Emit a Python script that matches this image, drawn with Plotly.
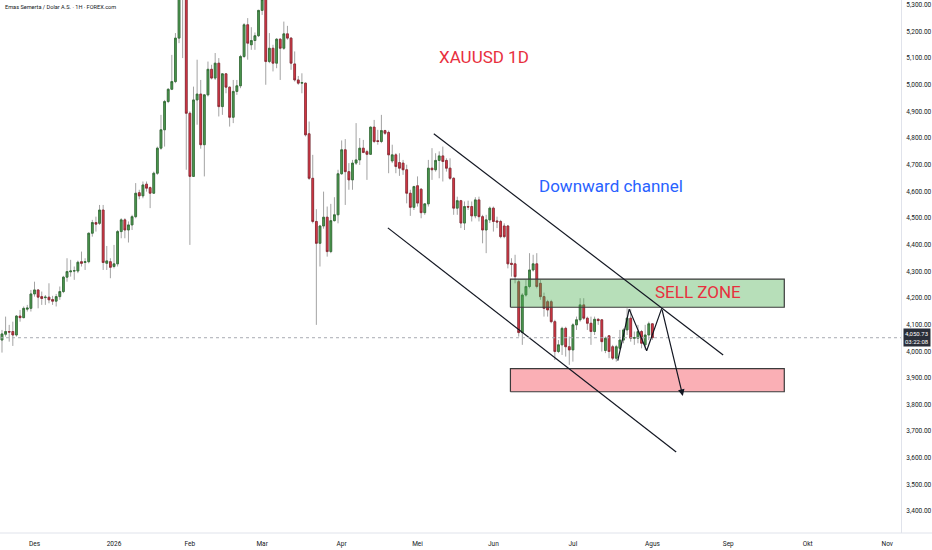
import pandas as pd
import plotly.graph_objects as go

# Daily candles, XAUUSD (Nov 18 2025 .. Aug 3 2026)
opens = [
    4042, 4064, 4074, 4074, 4061, 4132, 4126, 4158, 4161, 4215,
    4230, 4205, 4201, 4203, 4194, 4188, 4205, 4224, 4278, 4298,
    4301, 4301, 4336, 4333, 4336, 4443, 4483, 4480, 4530, 4330,
    4336, 4318, 4328, 4449, 4493, 4455, 4474, 4505, 4595, 4583,
    4627, 4614, 4593, 4668, 4762, 4831, 4937, 4983, 5012, 5175,
    5390, 5360, 4893, 4656, 4943, 4965, 4775, 4962, 5058, 5025,
    5081, 4918, 5041, 4991, 4878, 4975, 4996, 5106, 5225, 5150,
    5166, 5184, 5279, 5320, 5087, 5137, 5081, 5171, 5137, 5191,
    5175, 5078, 5018, 5006, 5006, 4816, 4649, 4487, 4405, 4470,
    4503, 4374, 4490, 4512, 4666, 4756, 4674, 4643, 4706, 4718,
    4762, 4749, 4739, 4841, 4790, 4787, 4828, 4821, 4714, 4737,
    4708, 4706, 4681, 4593, 4540, 4621, 4608, 4520, 4553, 4687,
    4681, 4716, 4733, 4716, 4687, 4649, 4537, 4565, 4481, 4543,
    4543, 4508, 4568, 4505, 4455, 4493, 4537, 4489, 4487, 4470,
    4470, 4330, 4328, 4261, 4070, 4211, 4243, 4305, 4328, 4255,
    4205, 4186, 4186, 4111, 3999, 4024, 4086, 4017, 4005, 4099,
    4118, 4174, 4124, 4105, 4074, 4120, 4118, 4003, 4058, 4017,
    3974, 4011, 4042, 4080, 4124, 4049, 4049, 4074, 4024, 4061,
    4103,
]
highs = [
    4080, 4130, 4099, 4111, 4136, 4155, 4168, 4174, 4230, 4261,
    4232, 4224, 4211, 4255, 4208, 4215, 4243, 4283, 4349, 4343,
    4318, 4340, 4374, 4349, 4445, 4493, 4505, 4549, 4549, 4395,
    4349, 4399, 4455, 4499, 4499, 4487, 4512, 4631, 4606, 4637,
    4637, 4618, 4674, 4768, 4887, 4943, 4987, 5112, 5194, 5420,
    5600, 5400, 4900, 4993, 5094, 5018, 4965, 5087, 5075, 5119,
    5100, 5044, 5043, 4993, 5018, 5018, 5112, 5231, 5250, 5216,
    5196, 5281, 5345, 5330, 5194, 5150, 5175, 5175, 5237, 5221,
    5179, 5125, 5033, 5043, 5008, 4862, 4737, 4533, 4474, 4599,
    4543, 4553, 4578, 4681, 4791, 4796, 4706, 4718, 4856, 4800,
    4793, 4756, 4843, 4868, 4831, 4887, 4831, 4828, 4775, 4743,
    4743, 4718, 4700, 4606, 4621, 4656, 4612, 4555, 4718, 4762,
    4743, 4750, 4768, 4724, 4724, 4653, 4580, 4568, 4562, 4565,
    4562, 4578, 4580, 4512, 4512, 4543, 4543, 4505, 4493, 4480,
    4474, 4349, 4362, 4268, 4218, 4268, 4368, 4362, 4368, 4268,
    4220, 4193, 4193, 4118, 4042, 4092, 4092, 4055, 4105, 4130,
    4199, 4199, 4130, 4130, 4130, 4124, 4120, 4055, 4061, 4024,
    4024, 4080, 4086, 4161, 4158, 4074, 4099, 4080, 4099, 4111,
    4105,
]
lows = [
    3995, 4055, 4036, 4020, 4055, 4111, 4124, 4149, 4149, 4205,
    4161, 4174, 4174, 4180, 4174, 4168, 4193, 4218, 4261, 4280,
    4268, 4293, 4318, 4305, 4330, 4430, 4449, 4474, 4305, 4305,
    4274, 4311, 4318, 4424, 4424, 4408, 4455, 4499, 4570, 4574,
    4599, 4537, 4591, 4662, 4756, 4768, 4931, 4980, 5006, 5156,
    5100, 4681, 4399, 4656, 4850, 4760, 4656, 4956, 5020, 5018,
    4881, 4887, 4968, 4843, 4856, 4962, 4987, 5100, 5094, 5131,
    5131, 5179, 5262, 5000, 5081, 5050, 5062, 5018, 5131, 5169,
    5056, 5012, 5000, 4968, 4806, 4643, 4480, 4099, 4318, 4460,
    4355, 4368, 4487, 4480, 4662, 4549, 4606, 4606, 4699, 4699,
    4743, 4643, 4737, 4781, 4775, 4781, 4812, 4668, 4706, 4668,
    4658, 4662, 4555, 4508, 4530, 4543, 4499, 4512, 4543, 4643,
    4674, 4649, 4637, 4674, 4643, 4512, 4512, 4462, 4455, 4530,
    4487, 4499, 4487, 4405, 4368, 4481, 4449, 4462, 4424, 4424,
    4311, 4280, 4255, 4055, 4024, 4205, 4236, 4299, 4236, 4193,
    4130, 4130, 4105, 3967, 3993, 3986, 3980, 3949, 3961, 4080,
    4111, 4118, 4080, 4024, 4061, 4099, 3999, 3993, 3974, 3967,
    3961, 4005, 4030, 4061, 4036, 4024, 4030, 4011, 4005, 4042,
    4042,
]
closes = [
    4065, 4074, 4072, 4061, 4132, 4126, 4161, 4162, 4215, 4230,
    4203, 4198, 4203, 4193, 4188, 4205, 4224, 4278, 4299, 4301,
    4302, 4334, 4330, 4336, 4443, 4483, 4477, 4530, 4333, 4339,
    4315, 4328, 4449, 4493, 4455, 4474, 4505, 4593, 4583, 4624,
    4612, 4593, 4668, 4762, 4831, 4937, 4983, 5012, 5175, 5390,
    5360, 4893, 4656, 4943, 4965, 4775, 4962, 5058, 5025, 5081,
    4918, 5041, 4991, 4878, 4975, 4996, 5106, 5225, 5156, 5166,
    5184, 5279, 5320, 5087, 5137, 5081, 5171, 5137, 5191, 5175,
    5081, 5018, 5006, 5008, 4812, 4649, 4487, 4405, 4470, 4503,
    4374, 4490, 4512, 4666, 4756, 4674, 4643, 4706, 4718, 4762,
    4746, 4739, 4841, 4787, 4787, 4828, 4818, 4737, 4737, 4693,
    4687, 4681, 4593, 4540, 4618, 4556, 4520, 4553, 4687, 4681,
    4716, 4733, 4712, 4687, 4649, 4537, 4565, 4481, 4543, 4541,
    4508, 4568, 4505, 4455, 4493, 4537, 4487, 4485, 4430, 4430,
    4328, 4326, 4280, 4070, 4211, 4243, 4305, 4328, 4243, 4205,
    4161, 4155, 4111, 3999, 4024, 4086, 4017, 4005, 4099, 4118,
    4174, 4124, 4105, 4074, 4120, 4115, 4036, 4049, 3999, 3974,
    4017, 4042, 4080, 4124, 4049, 4051, 4074, 4030, 4061, 4103,
    4050.73,
]

holidays = ["2025-12-25", "2026-01-01", "2026-04-03", "2026-07-03"]
dates = pd.bdate_range("2025-11-18", periods=len(opens), freq="C", holidays=holidays)

last_price = 4050.73
countdown = "03:22:08"

month_ticks = ["2025-12-01", "2026-01-02", "2026-02-02", "2026-03-02", "2026-04-01", "2026-05-01",
               "2026-06-01", "2026-07-01", "2026-08-03", "2026-09-01", "2026-10-01", "2026-11-02"]
month_labels = ["Des", "2026", "Feb", "Mar", "Apr", "Mei", "Jun", "Jul", "Agus", "Sep", "Okt", "Nov"]
price_ticks = [3400, 3500, 3600, 3700, 3800, 3900, 4000, 4100, 4200, 4300,
               4400, 4500, 4600, 4700, 4800, 4900, 5000, 5100, 5200, 5300]

# Drawings
upper_channel_x = ["2026-05-07 12:00", "2026-08-28 14:00"]
upper_channel_y = [4816, 3986]
lower_channel_x = ["2026-04-20 19:00", "2026-08-11 14:00"]
lower_channel_y = [4463, 3622]
zone_x = ["2026-06-05 17:00", "2026-09-22 12:00"]
sell_zone_y = [4165, 4271]
target_zone_y = [3848, 3935]
path_x = ["2026-07-20 10:00", "2026-07-23 14:00", "2026-07-30 10:00", "2026-08-05 14:00", "2026-08-13 10:00"]
path_y = [3965, 4158, 4002, 4161, 3832]

UP = "#4f9d52"
DOWN = "#e13a48"
WICK = "#a3a3a3"

fig = go.Figure()

# wicks (gray)
fig.add_trace(go.Candlestick(
    x=dates, open=opens, high=highs, low=lows, close=closes,
    increasing=dict(line=dict(color=WICK, width=1), fillcolor=WICK),
    decreasing=dict(line=dict(color=WICK, width=1), fillcolor=WICK),
    whiskerwidth=0, hoverinfo="skip", showlegend=False,
))
# bodies
body_hi = [max(o, c) for o, c in zip(opens, closes)]
body_lo = [min(o, c) for o, c in zip(opens, closes)]
fig.add_trace(go.Candlestick(
    x=dates, open=opens, high=body_hi, low=body_lo, close=closes,
    increasing=dict(line=dict(color="#2f6b32", width=0.8), fillcolor=UP),
    decreasing=dict(line=dict(color="#8a2430", width=0.8), fillcolor=DOWN),
    whiskerwidth=0, showlegend=False,
))


def box(xs, ys, fill):
    fig.add_trace(go.Scatter(
        x=[xs[0], xs[1], xs[1], xs[0], xs[0]],
        y=[ys[0], ys[0], ys[1], ys[1], ys[0]],
        mode="lines", fill="toself", fillcolor=fill,
        line=dict(color="#3b3b3b", width=1.2), hoverinfo="skip", showlegend=False,
    ))


box(zone_x, sell_zone_y, "rgba(76,175,80,0.4)")
box(zone_x, target_zone_y, "rgba(242,54,69,0.4)")

for xs, ys in [(upper_channel_x, upper_channel_y), (lower_channel_x, lower_channel_y), (path_x[:-1], path_y[:-1])]:
    fig.add_trace(go.Scatter(x=xs, y=ys, mode="lines", line=dict(color="#131722", width=1.2),
                             hoverinfo="skip", showlegend=False))

# last leg with arrow head
fig.add_annotation(x=path_x[-1], y=path_y[-1], ax=path_x[-2], ay=path_y[-2],
                   xref="x", yref="y", axref="x", ayref="y", text="", showarrow=True,
                   arrowhead=2, arrowsize=1.1, arrowwidth=1.2, arrowcolor="#131722")

# last price line + label
fig.add_shape(type="line", xref="paper", x0=0, x1=1, yref="y", y0=last_price, y1=last_price,
              line=dict(color="#a8abb3", width=1, dash="dot"))
fig.add_annotation(xref="paper", x=1.002, xanchor="left", yref="y", y=last_price, yanchor="middle",
                   text=f"{last_price:,.2f}<br>{countdown}", showarrow=False, align="center",
                   bgcolor="#2a2e39", borderpad=1, font=dict(family="Roboto", size=6, color="white"))
# bottom axis border across price scale
fig.add_shape(type="line", xref="paper", x0=0, x1=1.035, yref="paper", y0=0, y1=0,
              line=dict(color="#e0e3eb", width=1))

# texts
fig.add_annotation(xref="paper", yref="paper", x=0.003, y=0.987, xanchor="left", yanchor="middle",
                   text="Emas Semerta / Dolar A.S. · 1H · FOREX.com", showarrow=False,
                   font=dict(family="Roboto", size=5.6, color="#131722"))
labels = [("XAUUSD 1D", 0.5377, 0.893, "#e8303e"),
          ("Downward channel", 0.6783, 0.651, "#2962ff"),
          ("SELL ZONE", 0.7749, 0.452, "#e8303e")]
for text, px, py, color in labels:
    fig.add_annotation(xref="paper", yref="paper", x=px, y=py, xanchor="center", yanchor="middle",
                       text=text, showarrow=False, font=dict(family="Roboto", size=17, color=color))

fig.update_layout(
    width=932, height=550,
    margin=dict(l=0, r=29, t=0, b=17),
    paper_bgcolor="white", plot_bgcolor="white",
    font=dict(family="Roboto", size=6.5, color="#131722"),
    showlegend=False, hovermode=False,
)
fig.update_xaxes(
    type="date", range=["2025-11-17 10:48", "2026-11-05 19:12"],
    rangebreaks=[dict(bounds=["sat", "mon"]), dict(values=holidays)],
    rangeslider_visible=False,
    tickvals=month_ticks, ticktext=month_labels, ticks="", ticklabelstandoff=5,
    showgrid=False, zeroline=False, showline=False,
    tickfont=dict(size=6.5, color="#131722"),
)
fig.update_yaxes(
    side="right", range=[3318, 5318], tickvals=price_ticks, tickformat=",.2f",
    ticks="", ticklabelstandoff=3, showgrid=False, zeroline=False,
    showline=True, linecolor="#e0e3eb", linewidth=1,
    tickfont=dict(size=6.5, color="#131722"),
)

# drop the browser's default 8px body margin so the figure sits at the page origin
fig.write_html("out.html", config={"displayModeBar": False},
               post_script="document.body.style.margin='0';")
